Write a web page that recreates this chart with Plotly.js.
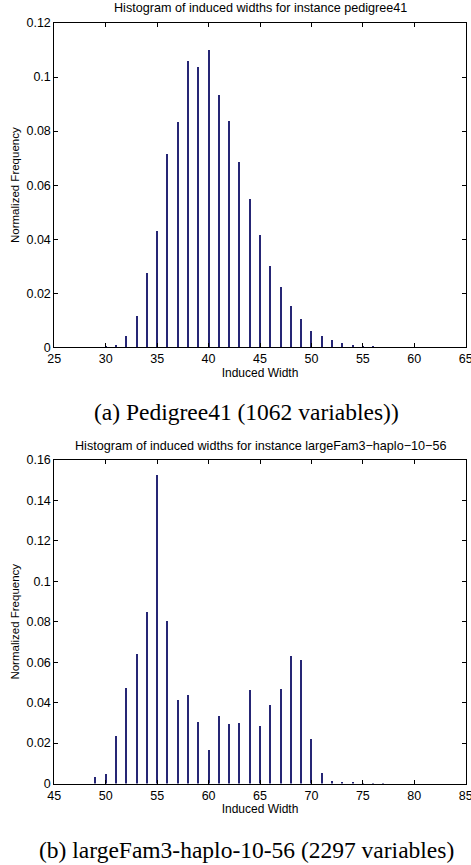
<!DOCTYPE html>
<html>
<head>
<meta charset="utf-8">
<script src="https://cdn.plot.ly/plotly-3.0.1.min.js"></script>
<style>html,body{margin:0;padding:0;background:#fff;}#chart{width:471px;height:865px;}</style>
</head>
<body>
<div id="chart"></div>
<script>
// Panel (a): pedigree41
const widthsA = [30,31,32,33,34,35,36,37,38,39,40,41,42,43,44,45,46,47,48,49,50,51,52,53,54,55,56,57];
const freqA   = [0.0005,0.001,0.004,0.0114,0.0274,0.0431,0.0717,0.0835,0.106,0.1036,0.110,0.0934,0.0837,0.0685,0.055,0.0416,0.030,0.0223,0.0153,0.0106,0.0062,0.0043,0.0026,0.0017,0.001,0.0006,0.0003,0.0002];
// Panel (b): largeFam3-haplo-10-56
const widthsB = [49,50,51,52,53,54,55,56,57,58,59,60,61,62,63,64,65,66,67,68,69,70,71,72,73,74,75,76,77];
const freqB   = [0.0031,0.0047,0.0234,0.0474,0.0641,0.085,0.1524,0.0803,0.0413,0.044,0.0304,0.0165,0.0335,0.0294,0.0298,0.0462,0.0284,0.0389,0.0465,0.0632,0.061,0.0218,0.005,0.0013,0.0005,0.0005,0.0004,0.0004,0.0004];

const titleA = 'Histogram of induced widths for instance pedigree41';
const titleB = 'Histogram of induced widths for instance largeFam3\u2212haplo\u221210\u221256';
const captionA = '(a) Pedigree41 (1062 variables))';
const captionB = '(b) largeFam3-haplo-10-56 (2297 variables)';
const xTitle = 'Induced Width';
const yTitle = 'Normalized Frequency';

const H = 865, W = 471;
const barColor = '#262675';
const sans = 'Liberation Sans, Arial, Helvetica, sans-serif';
const serif = 'Liberation Serif, Times New Roman, serif';

const traces = [
  {type:'bar', x:widthsA, y:freqA, width:0.2, marker:{color:barColor, line:{width:0}}, xaxis:'x', yaxis:'y', hoverinfo:'x+y'},
  {type:'bar', x:widthsB, y:freqB, width:0.2, marker:{color:barColor, line:{width:0}}, xaxis:'x2', yaxis:'y2', hoverinfo:'x+y'}
];

function xax(range, anchor) {
  return {
    domain:[54.3/W, 465.7/W], anchor:anchor, range:range, dtick:5, tick0:0,
    showline:true, linecolor:'#000', linewidth:1, mirror:'ticks',
    ticks:'inside', ticklen:4, tickcolor:'#000', showgrid:false, zeroline:false,
    ticklabeloverflow:'allow',
    tickfont:{family:sans, size:12.5, color:'#000'},
    title:{text:xTitle, font:{family:sans, size:12, color:'#000'}, standoff:1}
  };
}
function yax(range, anchor, top, bottom) {
  return {
    domain:[1-bottom/H, 1-top/H], anchor:anchor, range:range, dtick:0.02, tick0:0,
    showline:true, linecolor:'#000', linewidth:1, mirror:'ticks',
    ticks:'inside', ticklen:4, tickcolor:'#000', showgrid:false, zeroline:false,
    ticklabeloverflow:'allow',
    tickfont:{family:sans, size:12.5, color:'#000'},
    title:{text:yTitle, font:{family:sans, size:11.5, color:'#000'}, standoff:4}
  };
}

const layout = {
  width:W, height:H, margin:{l:0,r:0,t:0,b:0},
  paper_bgcolor:'#fff', plot_bgcolor:'#fff', showlegend:false, bargap:0,
  xaxis: xax([25,65],'y'),
  yaxis: yax([0,0.12],'x',23,347.3),
  xaxis2: xax([45,85],'y2'),
  yaxis2: yax([0,0.16],'x2',460,783.5),
  annotations:[
    {text:titleA, xref:'paper', yref:'paper', x:260/W, xanchor:'center', y:1-8/H, yanchor:'middle', showarrow:false, font:{family:sans,size:12.6,color:'#000'}},
    {text:titleB, xref:'paper', yref:'paper', x:260.5/W, xanchor:'center', y:1-446/H, yanchor:'middle', showarrow:false, font:{family:sans,size:12.6,color:'#000'}},
    {text:captionA, xref:'paper', yref:'paper', x:246/W, xanchor:'center', y:1-412/H, yanchor:'middle', showarrow:false, font:{family:serif,size:23.5,color:'#000'}},
    {text:captionB, xref:'paper', yref:'paper', x:246.5/W, xanchor:'center', y:1-850/H, yanchor:'middle', showarrow:false, font:{family:serif,size:23.5,color:'#000'}}
  ]
};

Plotly.newPlot('chart', traces, layout, {displayModeBar:false, staticPlot:true});
</script>
</body>
</html>
